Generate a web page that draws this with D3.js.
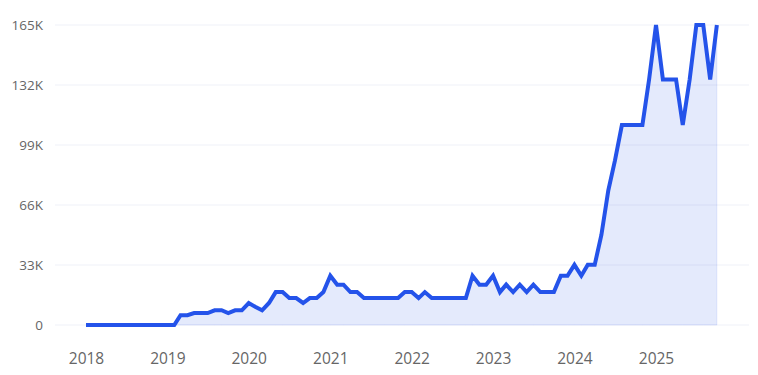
<!DOCTYPE html>
<html>
<head>
<meta charset="utf-8">
<script src="https://cdn.jsdelivr.net/npm/d3@7"></script>
<style>
  html, body { margin: 0; padding: 0; background: #fff; }
  svg { display: block; font-family: "Open Sans", "Noto Sans", sans-serif; }
</style>
</head>
<body>
<svg id="chart" width="758" height="375"></svg>
<script>
// Monthly values, Jan 2018 .. Oct 2025
const startYear = 2018;
const values = [
  // 2018
  0, 0, 0, 0, 0, 0, 0, 0, 0, 0, 0, 0,
  // 2019
  0, 0, 5400, 5400, 6600, 6600, 6600, 8100, 8100, 6600, 8100, 8100,
  // 2020
  12100, 9900, 8100, 12100, 18100, 18100, 14800, 14800, 12100, 14800, 14800, 18100,
  // 2021
  27100, 22200, 22200, 18100, 18100, 14800, 14800, 14800, 14800, 14800, 14800, 18100,
  // 2022
  18100, 14800, 18100, 14800, 14800, 14800, 14800, 14800, 14800, 27100, 22200, 22200,
  // 2023
  27100, 18100, 22200, 18100, 22200, 18100, 22200, 18100, 18100, 18100, 27100, 27100,
  // 2024
  33100, 27100, 33100, 33100, 49500, 74000, 90500, 110000, 110000, 110000, 110000, 135000,
  // 2025
  165000, 135000, 135000, 135000, 110000, 135000, 165000, 165000, 135000, 165000
];
const yTicks = [0, 33000, 66000, 99000, 132000, 165000];
const yTickLabels = ["0", "33K", "66K", "99K", "132K", "165K"];
const xTickYears = [2018, 2019, 2020, 2021, 2022, 2023, 2024, 2025];

const data = values.map((v, i) => ({ date: new Date(startYear, i, 1), value: v }));

const svg = d3.select("#chart");
const plotLeft = 55, plotRight = 749;

const x = d3.scaleTime()
  .domain([new Date(2018, 0, 1), new Date(2025, 0, 1)])
  .range([86, 656]);
const y = d3.scaleLinear().domain([0, 165000]).range([325, 25]);

// grid
svg.append("g").selectAll("line").data(yTicks).join("line")
  .attr("x1", plotLeft).attr("x2", plotRight)
  .attr("y1", d => y(d)).attr("y2", d => y(d))
  .attr("stroke", "#eff1f8").attr("stroke-width", 1);

// y axis labels
const yAxis = d3.axisLeft(y).tickValues(yTicks)
  .tickFormat((d, i) => yTickLabels[i]).tickSize(0).tickPadding(0);
const gy = svg.append("g").attr("transform", "translate(43,0)").call(yAxis);
gy.select(".domain").remove();
gy.selectAll("text").attr("fill", "#666").style("font-size", "13.5px")
  .style("font-family", "'Open Sans', sans-serif");

// x axis labels
const xAxis = d3.axisBottom(x).tickValues(xTickYears.map(yr => new Date(yr, 0, 1)))
  .tickFormat(d3.timeFormat("%Y")).tickSize(0).tickPadding(0);
const gx = svg.append("g").attr("transform", "translate(0,353)").call(xAxis);
gx.select(".domain").remove();
gx.selectAll("text").attr("fill", "#666").style("font-size", "15.5px")
  .style("font-family", "'Open Sans', sans-serif");

// area
const area = d3.area().x(d => x(d.date)).y0(y(0)).y1(d => y(d.value));
svg.append("path").datum(data)
  .attr("d", area)
  .attr("fill", "rgba(36,83,234,0.12)")
  .attr("stroke", "rgba(36,83,234,0.10)")
  .attr("stroke-width", 1);

// line
const line = d3.line().x(d => x(d.date)).y(d => y(d.value));
svg.append("path").datum(data)
  .attr("d", line)
  .attr("fill", "none")
  .attr("stroke", "#2453ea")
  .attr("stroke-width", 4)
  .attr("stroke-linejoin", "miter")
  .attr("stroke-linecap", "butt");
</script>
</body>
</html>
